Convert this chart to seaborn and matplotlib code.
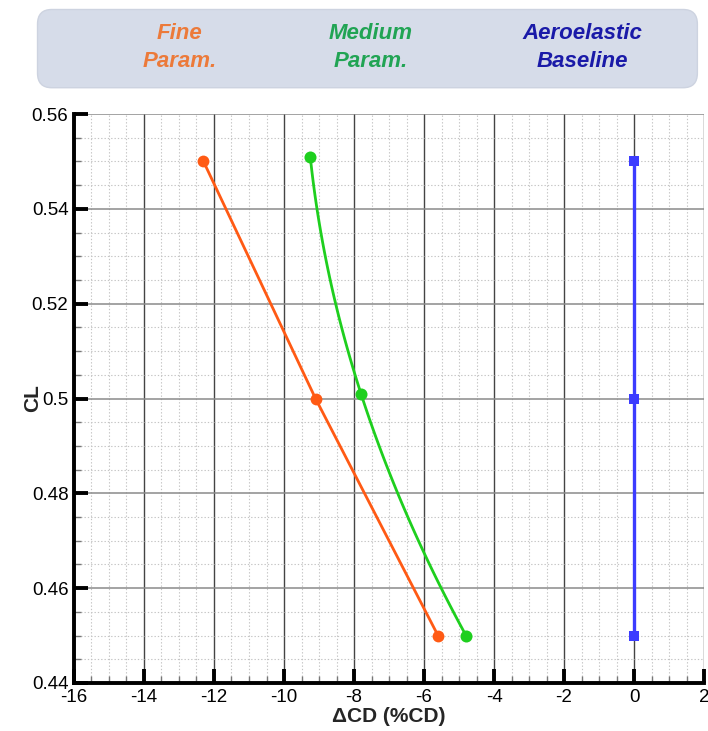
import numpy as np
import pandas as pd
import matplotlib
matplotlib.use("Agg")
import matplotlib.pyplot as plt
from matplotlib.patches import FancyBboxPatch
from matplotlib.ticker import MultipleLocator
import seaborn as sns

# Lift coefficient levels and drag change (% of baseline CD)
cl_fine = [0.55, 0.50, 0.45]
dcd_fine = [-12.3, -9.1, -5.6]

cl_medium = [0.551, 0.501, 0.45]
dcd_medium = [-9.25, -7.8, -4.8]

cl_base = [0.55, 0.50, 0.45]
dcd_base = [0.0, 0.0, 0.0]

series_names = ["Fine\nParam.", "Medium\nParam.", "Aeroelastic\nBaseline"]

sns.set_theme(style="white")
plt.rcParams["font.family"] = ["Liberation Sans", "DejaVu Sans"]
plt.rcParams["axes.unicode_minus"] = False

c_fine = "#ff5a14"
c_med = "#1ecf1e"
c_base = "#3c3cff"

fig = plt.figure(figsize=(7.08, 7.31), dpi=100)
ax = fig.add_axes([0.1045, 0.0657, 0.8899, 0.7783])

fine = pd.DataFrame({"dcd": dcd_fine, "cl": cl_fine})
med = pd.DataFrame({"dcd": dcd_medium, "cl": cl_medium})
base = pd.DataFrame({"dcd": dcd_base, "cl": cl_base})

# smooth spline through the medium-parameterisation points (dcd as a function of cl)
coef = np.polyfit(med["cl"], med["dcd"], 2)
cl_s = np.linspace(min(cl_medium), max(cl_medium), 100)
med_curve = pd.DataFrame({"dcd": np.polyval(coef, cl_s), "cl": cl_s})

sns.lineplot(data=fine, x="dcd", y="cl", sort=False, estimator=None,
             color=c_fine, lw=2, marker="o", markersize=8.5,
             markeredgewidth=0, ax=ax, zorder=5)
sns.lineplot(data=med_curve, x="dcd", y="cl", sort=False, estimator=None,
             color=c_med, lw=2, ax=ax, zorder=5)
sns.scatterplot(data=med, x="dcd", y="cl", color=c_med, s=75, linewidth=0,
                ax=ax, zorder=6)
sns.lineplot(data=base, x="dcd", y="cl", sort=False, estimator=None,
             color=c_base, lw=2.4, marker="s", markersize=6.5,
             markeredgewidth=0, ax=ax, zorder=5)

ax.set_xlim(-16, 2)
ax.set_ylim(0.44, 0.56)
ax.xaxis.set_major_locator(MultipleLocator(2))
ax.xaxis.set_minor_locator(MultipleLocator(0.5))
ax.yaxis.set_minor_locator(MultipleLocator(0.005))
ax.set_yticks(np.arange(0.44, 0.5601, 0.02))
ax.set_yticklabels(["0.44", "0.46", "0.48", "0.5", "0.52", "0.54", "0.56"])

ax.grid(which="major", axis="x", color="#444444", lw=1.0, ls="-")
ax.grid(which="major", axis="y", color="#8a8a8a", lw=1.1, ls="-")
ax.grid(which="minor", color="#c4c4c4", lw=0.8, ls=(0, (1.2, 1.8)))
ax.set_axisbelow(True)

for side in ["left", "bottom"]:
    ax.spines[side].set_color("black")
    ax.spines[side].set_linewidth(2.8)
for side in ["top", "right"]:
    ax.spines[side].set_visible(False)

ax.tick_params(which="major", direction="in", length=10, width=2.8,
               labelsize=13.5, colors="black", left=True, bottom=True, pad=4)
ax.tick_params(which="minor", direction="in", length=5, width=1.0,
               colors="#777777", left=True, bottom=True)

ax.set_xlabel("\u0394CD (%CD)", fontsize=15, fontweight="bold", labelpad=1)
ax.set_ylabel("CL", fontsize=15, fontweight="bold")
ax.yaxis.set_label_coords(-0.050, 0.5)

# legend banner across the top
box = FancyBboxPatch((0.053, 0.880), 0.932, 0.107,
                     boxstyle="round,pad=0,rounding_size=0.02",
                     transform=fig.transFigure, facecolor="#d6dce9",
                     edgecolor="#cdd3e0", lw=1, zorder=0)
fig.patches.append(box)
for xpos, name, col in zip([0.254, 0.523, 0.823], series_names,
                           ["#ec7a3a", "#21a454", "#1a1aa8"]):
    fig.text(xpos, 0.9355, name, ha="center", va="center", fontsize=16,
             fontweight="bold", fontstyle="italic", color=col,
             linespacing=1.45)

fig.savefig("out.png", dpi=100)
